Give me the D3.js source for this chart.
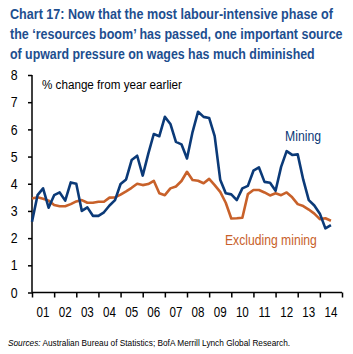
<!DOCTYPE html>
<html><head><meta charset="utf-8">
<script src="https://cdn.jsdelivr.net/npm/d3@7"></script>
<style>
html,body{margin:0;padding:0;background:#fff;}
svg{display:block;}
text{font-family:"Liberation Sans",Arial,sans-serif;}
</style></head><body>
<svg id="c" width="353" height="354"></svg>
<script>
const titleLines = [
  "Chart 17: Now that the most labour-intensive phase of",
  "the \u2018resources boom\u2019 has passed, one important source",
  "of upward pressure on wages has much diminished"
];
const years = d3.range(2001, 2015);
const yTicks = [0,1,2,3,4,5,6,7,8];
// quarterly, starting 2001 Q1
const mining = [2.6,3.58,3.83,3.12,3.58,3.68,3.38,4.05,4.0,3.0,3.13,2.82,2.82,2.95,3.2,3.4,
  3.99,4.16,4.87,5.03,4.3,5.1,5.83,5.75,6.46,6.2,5.54,5.45,4.93,5.9,6.65,6.46,6.42,5.75,
  4.15,3.65,3.61,3.4,3.83,3.92,4.48,4.6,4.07,4.04,3.74,4.62,5.2,5.06,5.08,4.15,3.4,3.2,2.9,2.36,2.48];
const exMining = [3.46,3.5,3.45,3.38,3.22,3.17,3.17,3.25,3.35,3.4,3.3,3.3,3.34,3.34,3.49,3.5,
  3.6,3.72,3.85,4.0,3.95,3.99,4.11,3.65,3.58,3.83,3.9,4.1,4.44,4.14,4.11,4.02,4.18,3.95,
  3.7,3.3,2.72,2.73,2.75,3.62,3.77,3.77,3.68,3.57,3.65,3.58,3.68,3.5,3.25,3.18,3.05,2.9,2.7,2.73,2.64];

const navy = "#0B3A78", orange = "#C8612A", titleCol = "#1D4E8F";
const svg = d3.select("#c");

// place a text at (x,y) squeezed horizontally to width w
function squeeze(sel, x0, y0, w) {
  sel.each(function(){
    const n = this.getComputedTextLength();
    const s = Math.min(1, w / n);
    d3.select(this).attr("x", 0).attr("y", 0)
      .attr("transform", `translate(${x0},${y0}) scale(${s},1)`);
  });
}

const titleWidths = [323, 333, 305];
svg.selectAll("text.title").data(titleLines).enter().append("text")
  .attr("class","title")
  .attr("fill", titleCol).attr("font-weight","bold").attr("font-size", 15.5)
  .text(d=>d)
  .each(function(d,i){ squeeze(d3.select(this), 10, 19 + i*20, titleWidths[i]); });

const x = d3.scaleLinear().domain([2001, 2015]).range([32, 342]);
const y = d3.scaleLinear().domain([0, 8]).range([292.5, 75]);

// axes
const yAxis = d3.axisLeft(y).tickValues(yTicks).tickSize(4).tickPadding(13).tickFormat(d3.format("d"));
const gy = svg.append("g").attr("transform","translate(32,0)").call(yAxis);
gy.selectAll("text").attr("font-size",14.5).attr("fill","#000")
  .attr("transform","scale(0.85,1)");
gy.selectAll("line,path").attr("stroke","#000").attr("stroke-width",1.5);
gy.select(".domain").attr("d", `M0,${y(8)}V${y(0)}`);

const xAxis = d3.axisBottom(x).tickValues(d3.range(2001,2016)).tickSize(5).tickFormat("");
const gx = svg.append("g").attr("transform",`translate(0,${y(0)})`).call(xAxis);
gx.selectAll("line,path").attr("stroke","#000").attr("stroke-width",1.5);
gx.select(".domain").attr("d", `M${x(2001)},0H${x(2015)}`);
gx.selectAll("text.yl").data(years).enter().append("text")
  .attr("class","yl")
  .attr("text-anchor","middle").attr("font-size",14).attr("fill","#000")
  .attr("transform", d=>`translate(${x(d+0.5)},24) scale(0.83,1)`)
  .text(d=>String(d%100).padStart(2,"0"));

const line = d3.line().x((d,i)=>x(2001 + i/4)).y(d=>y(d));
svg.append("path").datum(exMining).attr("d", line)
  .attr("fill","none").attr("stroke",orange).attr("stroke-width",2.6).attr("stroke-linejoin","round");
svg.append("path").datum(mining).attr("d", line)
  .attr("fill","none").attr("stroke",navy).attr("stroke-width",2.6).attr("stroke-linejoin","round");

svg.append("text").attr("font-size",13.5).attr("fill","#000")
  .text("% change from year earlier").call(squeeze, 42, 89, 140);
svg.append("text").attr("font-size",15).attr("fill",navy)
  .text("Mining").call(squeeze, 285, 141, 36);
svg.append("text").attr("font-size",15).attr("fill",orange)
  .text("Excluding mining").call(squeeze, 225, 245, 92);

const src = svg.append("text").attr("font-size",8.6).attr("fill","#000");
src.append("tspan").attr("font-style","italic").text("Sources:");
src.append("tspan").text(" Australian Bureau of Statistics; BofA Merrill Lynch Global Research.");
src.call(squeeze, 8, 346, 282);
</script>
</body></html>
